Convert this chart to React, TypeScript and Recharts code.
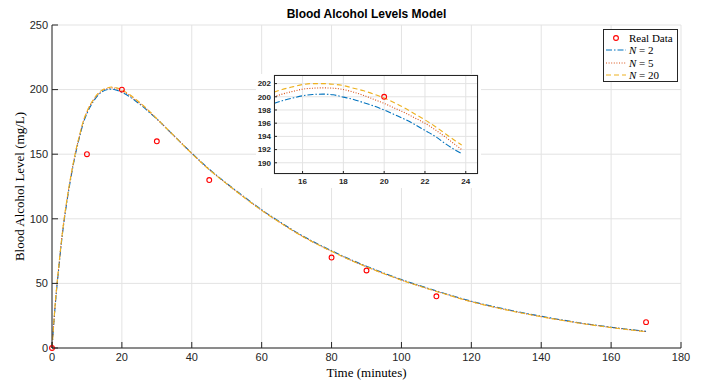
import React from 'react';
import { ComposedChart, LineChart, Line, Scatter, XAxis, YAxis, CartesianGrid } from 'recharts';

// Measured data
const realTime = [0, 10, 20, 30, 45, 80, 90, 110, 170];
const realLevel = [0, 150, 200, 160, 130, 70, 60, 40, 20];

// Model curves
const modelTime = [0, 1, 2, 3, 4, 5, 6, 7, 8, 9, 10, 12, 14, 16, 17, 18, 20, 22, 24, 26, 28, 30, 35, 40, 45, 50, 55, 60, 65, 70, 75, 80, 85, 90, 95, 100, 110, 120, 130, 140, 150, 160, 170];
const levelN2 = [0, 35.5, 63.5, 88.5, 108.5, 125.5, 140.5, 153.5, 164.5, 174.5, 181.5, 191.5, 197.7, 200.15, 200.4, 199.95, 198.0, 194.9, 191.0, 186.8, 182.0, 177.2, 164, 150.8, 138.4, 127.4, 117, 107, 98, 89.5, 82, 75.3, 69, 63.3, 58, 53, 44.2, 36.2, 29.9, 24.6, 19.9, 16.1, 12.9];
const levelN5 = [0, 36.5, 64.5, 89.5, 109.5, 126.5, 141.5, 154.5, 165.5, 175.5, 182.5, 192.4, 198.4, 201.1, 201.35, 201.1, 199.0, 196.0, 191.7, 187.5, 182.6, 177.4, 164, 150.6, 138.1, 127.1, 116.6, 106.6, 97.6, 89.1, 81.6, 74.9, 68.6, 62.9, 57.6, 52.6, 43.9, 35.9, 29.6, 24.3, 19.7, 15.9, 12.7];
const levelN20 = [0, 37, 65, 90, 110, 127, 142, 155, 166, 176, 183, 193, 199, 201.5, 202, 201.7, 199.8, 196.5, 192.4, 188, 183, 177.5, 164, 150.5, 138, 127, 116.5, 106.5, 97.5, 89, 81.5, 74.8, 68.5, 62.8, 57.5, 52.5, 43.8, 35.8, 29.5, 24.2, 19.6, 15.8, 12.6];

// Zoomed inset
const insetTime = [14.6, 15, 15.5, 16, 16.5, 17, 17.5, 18, 18.5, 19, 19.5, 20, 20.5, 21, 21.5, 22, 22.5, 23, 23.5, 23.8];
const insetN2 = [199.0, 199.4, 199.8, 200.15, 200.35, 200.4, 200.3, 199.95, 199.6, 199.1, 198.6, 198.0, 197.3, 196.6, 195.8, 194.9, 194.0, 192.9, 191.9, 191.4];
const insetN5 = [200.0, 200.4, 200.8, 201.15, 201.3, 201.35, 201.3, 201.1, 200.7, 200.2, 199.6, 199.0, 198.3, 197.6, 196.8, 196.0, 195.0, 193.9, 192.7, 192.0];
const insetN20 = [200.7, 201.1, 201.5, 201.85, 202.0, 202.0, 201.9, 201.7, 201.3, 200.9, 200.4, 199.8, 199.1, 198.3, 197.4, 196.5, 195.5, 194.4, 193.3, 192.7];
const insetRealTime = [20];
const insetRealLevel = [200];

const xTicks = [0, 20, 40, 60, 80, 100, 120, 140, 160, 180];
const yTicks = [0, 50, 100, 150, 200, 250];
const insetXTicks = [16, 18, 20, 22, 24];
const insetYTicks = [190, 192, 194, 196, 198, 200, 202];

const seriesNames = ['Real Data', 'N = 2', 'N = 5', 'N = 20'];

const C_N2 = '#0072BD';
const C_N5 = '#D95319';
const C_N20 = '#EDB120';
const C_REAL = '#FF0000';
const AXIS = '#262626';
const GRID = '#e3e3e3';
const SANS = '"Liberation Sans", Arial, Helvetica, sans-serif';
const SERIF = '"Liberation Serif", "Times New Roman", serif';

const DASH_N2 = '6 2 1.5 2';
const DASH_N5 = '1 1.6';
const DASH_N20 = '5 3';

const modelRows = modelTime.map((t, i) => ({ t, n2: levelN2[i], n5: levelN5[i], n20: levelN20[i] }));
const realRows = realTime.map((t, i) => ({ t, v: realLevel[i] }));
const insetRows = insetTime.map((t, i) => ({ t, n2: insetN2[i], n5: insetN5[i], n20: insetN20[i] }));
const insetRealRows = insetRealTime.map((t, i) => ({ t, v: insetRealLevel[i] }));

const MainXTick = (props: any) => {
  const { x, y, payload } = props;
  const axisY = y - 4;
  return (
    <g>
      <line x1={x} x2={x} y1={axisY} y2={axisY - 6} stroke={AXIS} strokeWidth={1} />
      <text x={x} y={y} dy="0.85em" textAnchor="middle" fontFamily={SANS} fontSize={11} fill={AXIS}>
        {payload.value}
      </text>
    </g>
  );
};

const MainYTick = (props: any) => {
  const { x, y, payload } = props;
  const axisX = x + 4;
  return (
    <g>
      <line x1={axisX} x2={axisX + 6} y1={y} y2={y} stroke={AXIS} strokeWidth={1} />
      <text x={x} y={y} dy="0.35em" textAnchor="end" fontFamily={SANS} fontSize={11} fill={AXIS}>
        {payload.value}
      </text>
    </g>
  );
};

const InsetXTick = (props: any) => {
  const { x, y, payload } = props;
  const axisY = y - 3;
  return (
    <g>
      <line x1={x} x2={x} y1={axisY} y2={axisY - 3} stroke={AXIS} strokeWidth={1} />
      <text x={x} y={y} dy="0.85em" textAnchor="middle" fontFamily={SANS} fontSize={8} fontWeight={700} fill={AXIS}>
        {payload.value}
      </text>
    </g>
  );
};

const InsetYTick = (props: any) => {
  const { x, y, payload } = props;
  const axisX = x + 3;
  return (
    <g>
      <line x1={axisX} x2={axisX + 3} y1={y} y2={y} stroke={AXIS} strokeWidth={1} />
      <text x={x} y={y} dy="0.35em" textAnchor="end" fontFamily={SANS} fontSize={8} fontWeight={700} fill={AXIS}>
        {payload.value}
      </text>
    </g>
  );
};

const RingShape = (props: any) => {
  const { cx, cy } = props;
  if (cx == null || cy == null) return null;
  return <circle cx={cx} cy={cy} r={2.4} fill="none" stroke={C_REAL} strokeWidth={1.1} />;
};

const LegendRow = ({ kind, label }: { kind: string; label: string }) => {
  const parts = label.split(' = ');
  return (
    <div style={{ display: 'flex', alignItems: 'center', height: 12.3 }}>
      <svg width={22} height={10} style={{ flex: 'none' }}>
        {kind === 'real' && <circle cx={11} cy={5} r={2.4} fill="none" stroke={C_REAL} strokeWidth={1.1} />}
        {kind === 'n2' && <line x1={1} x2={21} y1={5} y2={5} stroke={C_N2} strokeWidth={1} strokeDasharray={DASH_N2} />}
        {kind === 'n5' && <line x1={1} x2={21} y1={5} y2={5} stroke={C_N5} strokeWidth={1} strokeDasharray={DASH_N5} />}
        {kind === 'n20' && <line x1={1} x2={21} y1={5} y2={5} stroke={C_N20} strokeWidth={1} strokeDasharray={DASH_N20} />}
      </svg>
      <span style={{ marginLeft: 2, fontFamily: SERIF, fontSize: 11, color: '#000', whiteSpace: 'nowrap', lineHeight: '12px' }}>
        {parts.length === 2 ? (
          <>
            <i>{parts[0]}</i> = {parts[1]}
          </>
        ) : (
          label
        )}
      </span>
    </div>
  );
};

export default function App() {
  return (
    <div style={{ position: 'absolute', left: 0, top: 0, width: 701, height: 389, background: '#fff', overflow: 'hidden' }}>
      <ComposedChart width={701} height={389} data={modelRows} margin={{ top: 25, right: 20, left: 0, bottom: 0 }}>
        <CartesianGrid stroke={GRID} strokeWidth={1} horizontalPoints={undefined} />
        <XAxis
          dataKey="t"
          type="number"
          domain={[0, 180]}
          ticks={xTicks}
          interval={0}
          height={41}
          tickSize={0}
          tickMargin={4}
          tickLine={false}
          axisLine={{ stroke: AXIS, strokeWidth: 1 }}
          tick={<MainXTick />}
          label={{ value: 'Time (minutes)', position: 'insideBottom', offset: 12, fontFamily: SERIF, fontSize: 13, fill: '#000' }}
        />
        <YAxis
          type="number"
          domain={[0, 250]}
          ticks={yTicks}
          interval={0}
          width={52}
          tickSize={0}
          tickMargin={4}
          tickLine={false}
          axisLine={{ stroke: AXIS, strokeWidth: 1 }}
          tick={<MainYTick />}
          label={{ value: 'Blood Alcohol Level (mg/L)', angle: -90, position: 'center', dx: -7, fontFamily: SERIF, fontSize: 13, fill: '#000' }}
        />
        <Line type="monotone" dataKey="n2" name={seriesNames[1]} stroke={C_N2} strokeWidth={1.1} strokeDasharray={DASH_N2} dot={false} isAnimationActive={false} />
        <Line type="monotone" dataKey="n5" name={seriesNames[2]} stroke={C_N5} strokeWidth={1.1} strokeDasharray={DASH_N5} dot={false} isAnimationActive={false} />
        <Line type="monotone" dataKey="n20" name={seriesNames[3]} stroke={C_N20} strokeWidth={1.1} strokeDasharray={DASH_N20} dot={false} isAnimationActive={false} />
        <Scatter data={realRows} dataKey="v" name={seriesNames[0]} shape={<RingShape />} isAnimationActive={false} />
      </ComposedChart>

      <div style={{ position: 'absolute', left: 0, top: 7, width: 733, textAlign: 'center', fontFamily: SANS, fontWeight: 700, fontSize: 12, color: '#000', lineHeight: '14px' }}>
        Blood Alcohol Levels Model
      </div>

      <div style={{ position: 'absolute', left: 603, top: 29, width: 75, height: 53, boxSizing: 'border-box', border: `1px solid ${AXIS}`, background: '#fff', padding: '2px 0 0 1px' }}>
        <LegendRow kind="real" label={seriesNames[0]} />
        <LegendRow kind="n2" label={seriesNames[1]} />
        <LegendRow kind="n5" label={seriesNames[2]} />
        <LegendRow kind="n20" label={seriesNames[3]} />
      </div>

      <div style={{ position: 'absolute', left: 256, top: 74, width: 225, height: 114, background: '#fff' }}>
        <ComposedChart width={225} height={114} data={insetRows} margin={{ top: 1, right: 3, left: 0, bottom: 0 }}>
          <CartesianGrid stroke={GRID} strokeWidth={1} />
          <XAxis
            dataKey="t"
            type="number"
            domain={[14.6, 24.6]}
            ticks={insetXTicks}
            interval={0}
            height={14}
            tickSize={0}
            tickMargin={3}
            tickLine={false}
            axisLine={false}
            allowDataOverflow
            tick={<InsetXTick />}
          />
          <YAxis
            type="number"
            domain={[188.3, 203.3]}
            ticks={insetYTicks}
            interval={0}
            width={18}
            tickSize={0}
            tickMargin={3}
            tickLine={false}
            axisLine={false}
            allowDataOverflow
            tick={<InsetYTick />}
          />
          <Line type="monotone" dataKey="n2" stroke={C_N2} strokeWidth={1.1} strokeDasharray={DASH_N2} dot={false} isAnimationActive={false} />
          <Line type="monotone" dataKey="n5" stroke={C_N5} strokeWidth={1.1} strokeDasharray={DASH_N5} dot={false} isAnimationActive={false} />
          <Line type="monotone" dataKey="n20" stroke={C_N20} strokeWidth={1.1} strokeDasharray={DASH_N20} dot={false} isAnimationActive={false} />
          <Scatter data={insetRealRows} dataKey="v" shape={<RingShape />} isAnimationActive={false} />
        </ComposedChart>
        <div style={{ position: 'absolute', left: 18, top: 1, width: 204, height: 99, boxSizing: 'border-box', border: `1px solid ${AXIS}`, pointerEvents: 'none' }} />
      </div>
    </div>
  );
}
